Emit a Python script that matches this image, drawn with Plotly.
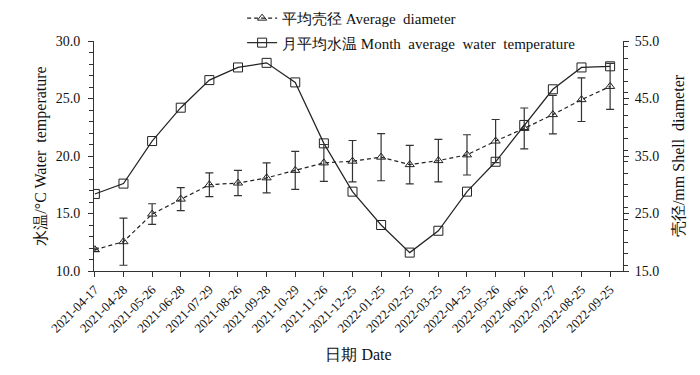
import plotly.graph_objects as go

dates = ["2021-04-17", "2021-04-28", "2021-05-26", "2021-06-28", "2021-07-29", "2021-08-26",
         "2021-09-28", "2021-10-29", "2021-11-26", "2021-12-25", "2022-01-25", "2022-02-25",
         "2022-03-25", "2022-04-25", "2022-05-26", "2022-06-26", "2022-07-27", "2022-08-25",
         "2022-09-25"]
water_temp = [16.7, 17.6, 21.3, 24.2, 26.6, 27.7, 28.1, 26.4, 21.1, 16.9, 14.0, 11.6,
              13.5, 16.9, 19.5, 22.7, 25.8, 27.7, 27.8]
diameter = [18.7, 20.1, 24.9, 27.5, 30.0, 30.3, 31.2, 32.5, 33.8, 34.1, 34.8, 33.5,
            34.2, 35.2, 37.6, 39.8, 42.2, 44.8, 47.1]
diameter_err = [0.3, 4.1, 1.8, 2.0, 2.05, 2.2, 2.6, 3.3, 3.2, 3.6, 4.1, 3.35,
                3.7, 3.5, 3.75, 3.55, 3.35, 3.8, 4.0]

xs = list(range(len(dates)))
FONT = "Liberation Serif"

fig = go.Figure()
fig.add_trace(go.Scatter(
    x=xs, y=diameter, yaxis="y2", name="平均壳径 Average  diameter",
    mode="lines+markers", legendgroup="a",
    line=dict(color="#222", width=1.2, dash="4px,3px"),
    marker=dict(symbol="triangle-up-open", size=8, color="#222", line=dict(width=1)),
    error_y=dict(type="data", array=diameter_err, visible=True, color="#333",
                 thickness=1.2, width=4),
))
fig.add_trace(go.Scatter(
    x=xs, y=water_temp, name="月平均水温 Month  average  water  temperature",
    mode="lines+markers", legendgroup="b",
    line=dict(color="#222", width=1.2),
    marker=dict(symbol="square-open", size=9, color="#222", line=dict(width=1)),
))

fig.update_layout(
    width=700, height=375,
    margin=dict(l=94, r=77, t=41, b=104, autoexpand=False),
    paper_bgcolor="white", plot_bgcolor="white",
    font=dict(family=FONT, size=13, color="#111"),
    showlegend=True,
    legend=dict(x=0.28, y=1.17, xanchor="left", yanchor="top",
                bgcolor="rgba(0,0,0,0)", font=dict(size=15, family=FONT),
                tracegroupgap=2, itemwidth=30),
    xaxis=dict(
        range=[-0.03, 18.45], tickmode="array", tickvals=xs, ticktext=dates,
        tickangle=-45, ticks="outside", ticklen=5, tickcolor="#333",
        showline=True, linecolor="#333", linewidth=1, showgrid=False, zeroline=False,
        tickfont=dict(size=13),
        title=dict(text="日期 Date", font=dict(size=16), standoff=14),
    ),
    yaxis=dict(
        range=[10, 30], tickvals=[10, 15, 20, 25, 30], ticktext=["10.0", "15.0", "20.0", "25.0", "30.0"],
        ticks="outside", ticklen=5, tickcolor="#333", ticklabelstandoff=5,
        minor=dict(dtick=1, ticks="outside", ticklen=4, tickcolor="#333"),
        showline=True, linecolor="#333", linewidth=1, showgrid=False, zeroline=False,
        tickfont=dict(size=14),
        title=dict(text="水温/°C Water  temperature", font=dict(size=16), standoff=5),
    ),
    yaxis2=dict(
        range=[15, 55], overlaying="y", side="right",
        tickvals=[15, 25, 35, 45, 55], ticktext=["15.0", "25.0", "35.0", "45.0", "55.0"],
        ticks="outside", ticklen=5, tickcolor="#333", ticklabelstandoff=3,
        minor=dict(dtick=2, ticks="outside", ticklen=4, tickcolor="#333"),
        showline=True, linecolor="#333", linewidth=1, showgrid=False, zeroline=False,
        tickfont=dict(size=14),
        title=dict(text="壳径/mm Shell  diameter", font=dict(size=16), standoff=14),
    ),
)

fig.write_html("out.html", config={"displayModeBar": False},
               post_script="document.body.style.margin='0';")
